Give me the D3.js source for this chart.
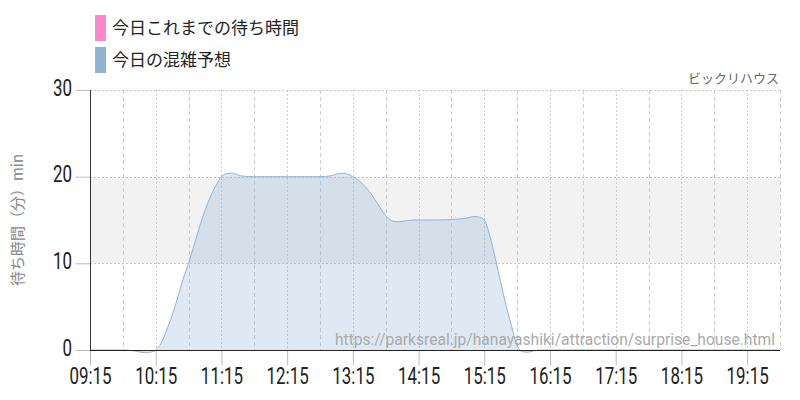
<!DOCTYPE html>
<html><head><meta charset="utf-8">
<script src="https://cdn.jsdelivr.net/npm/d3@7"></script>
<style>
html,body{margin:0;padding:0;background:#fff;}
svg{display:block;}
</style></head>
<body>
<svg id="c" width="800" height="400"></svg>
<script>
const legendLabels = ["今日これまでの待ち時間", "今日の混雑予想"];
const legendColors = ["#ff88cc", "#8fb3d0"];
const attractionName = "ビックリハウス";
const sourceUrl = "https://parksreal.jp/hanayashiki/attraction/surprise_house.html";
const yTitle = "待ち時間（分）min";
const yTicks = [0, 10, 20, 30];
const xTickLabels = ["09:15","10:15","11:15","12:15","13:15","14:15","15:15","16:15","17:15","18:15","19:15"];
const forecastTimes = ["09:15","09:45","09:55","10:05","10:10","10:15","10:20","10:25","10:30","10:35","10:40","10:45","10:50","10:55","11:00","11:05","11:10","11:15","11:20","11:25","11:30","11:35","11:45","12:15","12:45","12:55","13:00","13:05","13:10","13:15","13:20","13:25","13:30","13:35","13:40","13:45","13:50","13:55","14:00","14:10","14:30","14:50","15:00","15:05","15:10","15:15","15:20","15:25","15:30","15:35","15:40","15:45","15:50","15:55","16:00","16:10","17:15","18:15","19:15","19:45"];
const forecastValues = [0,0,-0.1,-0.3,-0.25,0,0.8,2.3,4.0,6.0,8.2,10.0,12.1,14.2,16.1,17.7,19.0,20.0,20.35,20.4,20.2,20.05,20.0,20.0,20.0,20.1,20.3,20.4,20.3,20.0,19.6,19.0,18.3,17.4,16.4,15.5,14.95,14.8,14.85,15.0,15.0,15.1,15.25,15.4,15.35,15.0,13.2,10.6,7.8,5.1,2.7,0.5,-0.2,-0.25,-0.1,0,0,0,0,0];

const toMin = s => { const [h,m] = s.split(":").map(Number); return h*60+m; };

const svg = d3.select("#c");
const L = 90, R = 780, T = 90, B = 350;
const x = d3.scaleLinear().domain([toMin("09:15"), toMin("19:45")]).range([L, R]);
const y = d3.scaleLinear().domain([0, 30]).range([B, T]);
const tickFont = "Roboto,sans-serif";
const SX = 0.72;

// band 10-20
svg.append("rect").attr("x", L).attr("y", y(20)).attr("width", R-L).attr("height", y(10)-y(20)).attr("fill", "#f2f2f2");

// vertical grid every 30 min
const gridTimes = d3.range(toMin("09:45"), toMin("19:45")+1, 30);
svg.append("g").selectAll("line").data(gridTimes).join("line")
  .attr("x1", d => Math.round(x(d))+0.5).attr("x2", d => Math.round(x(d))+0.5)
  .attr("y1", T).attr("y2", B)
  .attr("stroke", "#cfcfcf").attr("stroke-width", 1)
  .attr("stroke-dasharray", d => (d % 60 === 15) ? "2,2" : "4,3");

// horizontal grid
svg.append("g").selectAll("line").data(yTicks.filter(d => d > 0)).join("line")
  .attr("x1", L).attr("x2", R)
  .attr("y1", d => Math.round(y(d))+0.5).attr("y2", d => Math.round(y(d))+0.5)
  .attr("stroke", "#c8c8c8").attr("stroke-dasharray", "2,2");

// area
const pts = forecastTimes.map((t,i) => ({t: toMin(t), v: forecastValues[i]}));
const area = d3.area().x(d => x(d.t)).y0(y(0)).y1(d => y(d.v)).curve(d3.curveMonotoneX);
const line = d3.line().x(d => x(d.t)).y(d => y(d.v)).curve(d3.curveMonotoneX);
svg.append("path").datum(pts).attr("d", area).attr("fill", "rgb(116,159,203)").attr("fill-opacity", 0.23);
svg.append("path").datum(pts).attr("d", line).attr("fill", "none").attr("stroke", "#8fb3d9").attr("stroke-width", 1);

// y axis
const yAxis = d3.axisLeft(y).tickValues(yTicks).tickSize(15).tickPadding(3);
const gy = svg.append("g").attr("transform", `translate(${L+0.5},0)`).call(yAxis);
gy.select(".domain").remove();
gy.selectAll(".tick line").attr("stroke", "#bbb");
gy.selectAll(".tick text").attr("fill", "#222").style("font-family", tickFont).style("font-size", "23.5px")
  .attr("x", 0).attr("dy", null).attr("y", 0).attr("transform", `translate(-18.5,5) scale(${SX},1)`);
svg.append("line").attr("x1", L+0.5).attr("x2", L+0.5).attr("y1", T).attr("y2", B).attr("stroke", "#333");

// x axis
const xAxis = d3.axisBottom(x).tickValues(xTickLabels.map(toMin)).tickFormat((d,i) => xTickLabels[i]).tickSize(15).tickPadding(2);
const gx = svg.append("g").attr("transform", `translate(0,${B+0.5})`).call(xAxis);
gx.select(".domain").remove();
gx.selectAll(".tick line").attr("stroke", "#bbb");
gx.selectAll(".tick text").attr("fill", "#222").style("font-family", tickFont).style("font-size", "23.5px")
  .attr("y", 0).attr("dy", null).attr("transform", `translate(0,33) scale(${SX},1)`);
svg.append("line").attr("x1", L).attr("x2", R).attr("y1", B+0.5).attr("y2", B+0.5).attr("stroke", "#222");

// y title
svg.append("text").attr("transform", `translate(23,${(T+B)/2}) rotate(-90)`).attr("text-anchor", "middle")
  .attr("fill", "#888").style("font-family", "'Noto Sans CJK JP',sans-serif").style("font-size", "15px").text(yTitle);

// attraction name
svg.append("text").attr("x", 779).attr("y", 83).attr("text-anchor", "end").attr("fill", "#666")
  .style("font-family", "'Noto Sans CJK JP',sans-serif").style("font-size", "13px").text(attractionName);

// url
svg.append("text").attr("x", 775).attr("y", 345).attr("text-anchor", "end").attr("fill", "#aaa")
  .style("font-family", "Roboto,sans-serif").style("font-size", "15.6px").text(sourceUrl);

// legend
const lg = svg.append("g").selectAll("g").data(legendLabels).join("g").attr("transform", (d,i) => `translate(95,${15+i*32})`);
lg.append("rect").attr("width", 11).attr("height", 26).attr("fill", (d,i) => legendColors[i]);
lg.append("text").attr("x", 17).attr("y", 19).attr("fill", "#222")
  .style("font-family", "'Noto Sans CJK JP',sans-serif").style("font-size", "17px").text(d => d);
</script>
</body></html>
